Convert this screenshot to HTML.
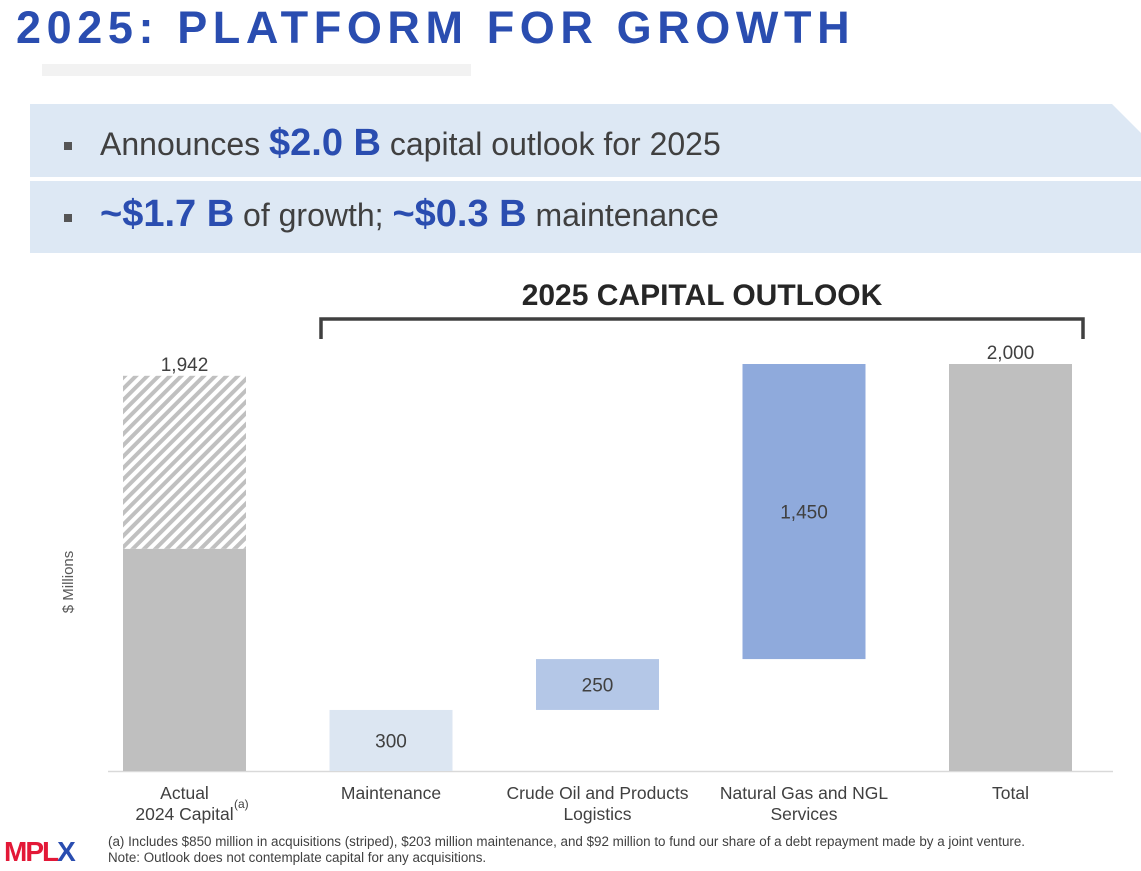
<!DOCTYPE html>
<html><head><meta charset="utf-8"><style>
body{margin:0;width:1141px;height:871px;background:#fff;overflow:hidden;font-family:"Liberation Sans",sans-serif;position:relative}
.abs{position:absolute}
</style></head><body>
<div class="abs" style="left:16px;top:2px;font-size:45px;font-weight:bold;color:#2a4db0;letter-spacing:5.6px;white-space:nowrap">2025: PLATFORM FOR GROWTH</div>
<div class="abs" style="left:42px;top:64px;width:429px;height:12px;background:#f2f2f2"></div>
<svg class="abs" style="left:0;top:0" width="1141" height="871">
<polygon points="30,104 1112,104 1141,133 1141,177 30,177" fill="#dde8f4"/>
<rect x="30" y="181" width="1111" height="72" fill="#dde8f4"/>
<rect x="64" y="142" width="8" height="8" fill="#555"/>
<rect x="64" y="214" width="8" height="8" fill="#555"/>
</svg>
<div class="abs" style="left:100px;top:122px;font-size:32px;color:#404040;white-space:nowrap">Announces <b style="color:#2a4db0;font-size:38px">$2.0 B</b> capital outlook for 2025</div>
<div class="abs" style="left:100px;top:193px;font-size:32px;color:#404040;white-space:nowrap"><b style="color:#2a4db0;font-size:38px">~$1.7 B</b> of growth; <b style="color:#2a4db0;font-size:38px">~$0.3 B</b> maintenance</div>
<svg id="chart" class="abs" style="left:0;top:0" width="1141" height="871">
<defs><pattern id="hatch" patternUnits="userSpaceOnUse" width="8" height="8" patternTransform="rotate(45)"><rect width="8" height="8" fill="#fff"/><rect width="4" height="8" fill="#c0c0c0"/></pattern></defs>
</svg>
<script>
const categories=["Actual\n2024 Capital","Maintenance","Crude Oil and Products\nLogistics","Natural Gas and NGL\nServices","Total"];
const values=[1942,300,250,1450,2000];
const bases=[0,0,300,550,0];
const striped=[850,0,0,0,0];
const labels=["1,942","300","250","1,450","2,000"];
const colors=["#bfbfbf","#dce6f2","#b4c7e7","#8faadc","#bfbfbf"];
const svg=document.getElementById('chart');
const NS="http://www.w3.org/2000/svg";
const y0=771,k=407/2000;
const y=v=>y0-v*k;
const x=i=>123+i*206.5;
const bw=123;
function el(t,a){const e=document.createElementNS(NS,t);for(const n in a)e.setAttribute(n,a[n]);svg.appendChild(e);return e;}
const br=el('path',{d:"M321,339 V319 H1083 V339",fill:"none",stroke:"#404040","stroke-width":3.5});


const bt=el('text',{x:702,y:305,"text-anchor":"middle","font-size":30,"font-weight":"bold",fill:"#262626"});
bt.textContent="2025 CAPITAL OUTLOOK";


const ax=el('line',{x1:108,x2:1113,y1:y0+0.5,y2:y0+0.5,stroke:"#d9d9d9","stroke-width":1.5});


const yt=el('text',{x:0,y:0,transform:"translate(73,582) rotate(-90)","text-anchor":"middle","font-size":15,fill:"#595959"});
yt.textContent="$ Millions";


values.forEach((v,i)=>{
  const top=y(bases[i]+v),bot=y(bases[i]);
  const solid=v-striped[i];
  const r=el('rect',{x:x(i),y:y(bases[i]+solid),width:bw,height:bot-y(bases[i]+solid),fill:colors[i]});
  
  
  if(striped[i]>0){
    const s=el('rect',{x:x(i),y:top,width:bw,height:y(bases[i]+solid)-top,fill:"url(#hatch)"});
    
    
  }
  const inside=(i>=1&&i<=3);
  const t=el('text',{x:x(i)+bw/2,y:inside?(top+bot)/2+7:top-5,"text-anchor":"middle","font-size":19,fill:"#404040"});
  t.textContent=labels[i];
  
  
  const lines=categories[i].split("\n");
  lines.forEach((ln,j)=>{
    const c=el('text',{x:x(i)+bw/2,y:799+j*21,"text-anchor":"middle","font-size":17.5,fill:"#404040"});
    c.textContent=ln;
    
    
  });
});
const sup=el('text',{x:234,y:808,"font-size":12,fill:"#404040"});
sup.textContent="(a)";


</script>
<div class="abs" style="left:108px;top:834px;font-size:13.4px;line-height:16px;color:#404040;white-space:nowrap">(a) Includes $850 million in acquisitions (striped), $203 million maintenance, and $92 million to fund our share of a debt repayment made by a joint venture.<br>Note: Outlook does not contemplate capital for any acquisitions.</div>
<div class="abs" style="left:4px;top:836px;font-size:28px;font-weight:bold;letter-spacing:-2px;white-space:nowrap"><span style="color:#e31837">MPL</span><span style="color:#2a4db0">X</span></div>
</body></html>
